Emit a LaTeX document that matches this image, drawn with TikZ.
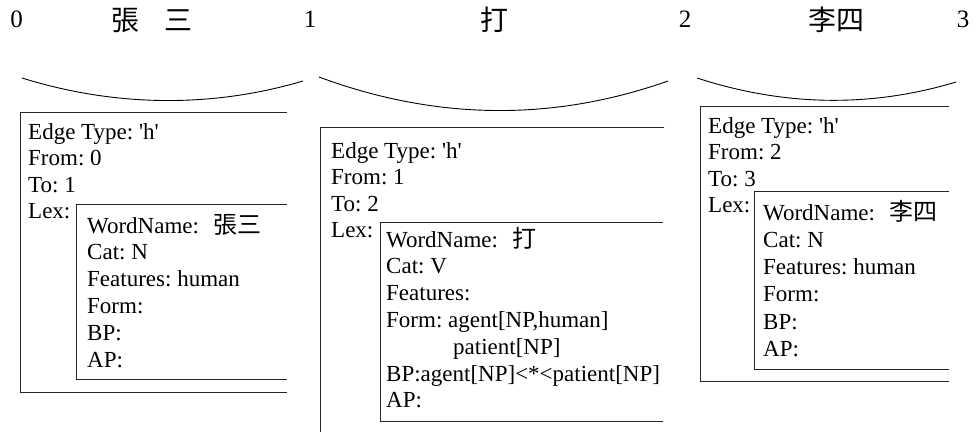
\documentclass[tikz,border=0pt]{standalone}
\usepackage{fontspec}
\setmainfont{Liberation Serif}
\newfontfamily\cjk{Noto Sans CJK TC}
\frenchspacing
\begin{document}
\begin{tikzpicture}[x=1pt,y=-1pt,
  txt/.style={anchor=base west,inner sep=0pt,font=\fontsize{23}{26}\selectfont},
  toplbl/.style={anchor=base,inner sep=0pt,font=\fontsize{25}{28}\selectfont},
  topcjk/.style={anchor=base,inner sep=0pt,font=\cjk\fontsize{28}{30}\selectfont},
  frame/.style={line width=0.9pt,draw=black!85},
  arcline/.style={line width=0.9pt,draw=black}]
\useasboundingbox (0,0) rectangle (975,432);
\newcommand{\wcjk}[1]{{\cjk\fontsize{24}{26}\selectfont #1}}
\newcommand{\hq}{Edge Type: \textquotesingle h\textquotesingle}
% top line
\node[toplbl] (n0) at (16.5,27) {0};
\node[topcjk] (w1) at (152,30.5) {張\hspace{24.5pt}三};
\node[toplbl] (n1) at (310,27) {1};
\node[topcjk] (w2) at (494,30.5) {打};
\node[toplbl] (n2) at (685,27) {2};
\node[topcjk] (w3) at (836,30.5) {李四};
\node[toplbl] (n3) at (963,27) {3};
% arcs
\draw[arcline] (22,78) .. controls (115,107) and (212,108) .. (303,81);
\draw[arcline] (319,77) .. controls (435,120) and (552,122) .. (668,81);
\draw[arcline] (697,78) .. controls (783,106) and (870,108) .. (956,82);
% box 1
\draw[frame] (287,112) -- (20,112) -- (20,392) -- (287,392);
\draw[frame] (287,204) -- (76,204) -- (76,379) -- (287,379);
\node[txt] (b1a) at (28,139) {\hq};
\node[txt] (b1b) at (28,165.5) {From: 0};
\node[txt] (b1c) at (28,192) {To: 1};
\node[txt] (b1d) at (28,218.5) {Lex:};
\node[txt] (b1e) at (87,233) {WordName:\hspace{14pt}\wcjk{張三}};
\node[txt] (b1f) at (87,259.8) {Cat: N};
\node[txt] (b1g) at (87,286.6) {Features: human};
\node[txt] (b1h) at (87,313.4) {Form:};
\node[txt] (b1i) at (87,340.2) {BP:};
\node[txt] (b1j) at (87,367) {AP:};
% box 2
\draw[frame] (664,127) -- (320,127) -- (320,432);
\draw[frame] (663,222) -- (380,222) -- (380,421) -- (663,421);
\node[txt] (b2a) at (331,158) {\hq};
\node[txt] (b2b) at (331,184.5) {From: 1};
\node[txt] (b2c) at (331,211) {To: 2};
\node[txt] (b2d) at (331,237.5) {Lex:};
\node[txt] (b2e) at (386,247) {WordName:\hspace{14pt}\wcjk{打}};
\node[txt] (b2f) at (386,273.8) {Cat: V};
\node[txt] (b2g) at (386,300.6) {Features:};
\node[txt] (b2h) at (386,327.4) {Form: agent[NP,human]};
\node[txt] (b2i) at (453,354.2) {patient[NP]};
\node[txt] (b2j) at (386,381) {BP:agent[NP]<*<patient[NP]};
\node[txt] (b2k) at (386,407.8) {AP:};
% box 3
\draw[frame] (949,106) -- (700,106) -- (700,381.7) -- (949,381.7);
\draw[frame] (949,191.5) -- (754,191.5) -- (754,369.3) -- (949,369.3);
\node[txt] (b3a) at (708,133.3) {\hq};
\node[txt] (b3b) at (708,159.8) {From: 2};
\node[txt] (b3c) at (708,186.3) {To: 3};
\node[txt] (b3d) at (708,212.3) {Lex:};
\node[txt] (b3e) at (763,220) {WordName:\hspace{14pt}\wcjk{李四}};
\node[txt] (b3f) at (763,247.3) {Cat: N};
\node[txt] (b3g) at (763,274.6) {Features: human};
\node[txt] (b3h) at (763,301.9) {Form:};
\node[txt] (b3i) at (763,329.2) {BP:};
\node[txt] (b3j) at (763,356.5) {AP:};
\end{tikzpicture}
\end{document}
